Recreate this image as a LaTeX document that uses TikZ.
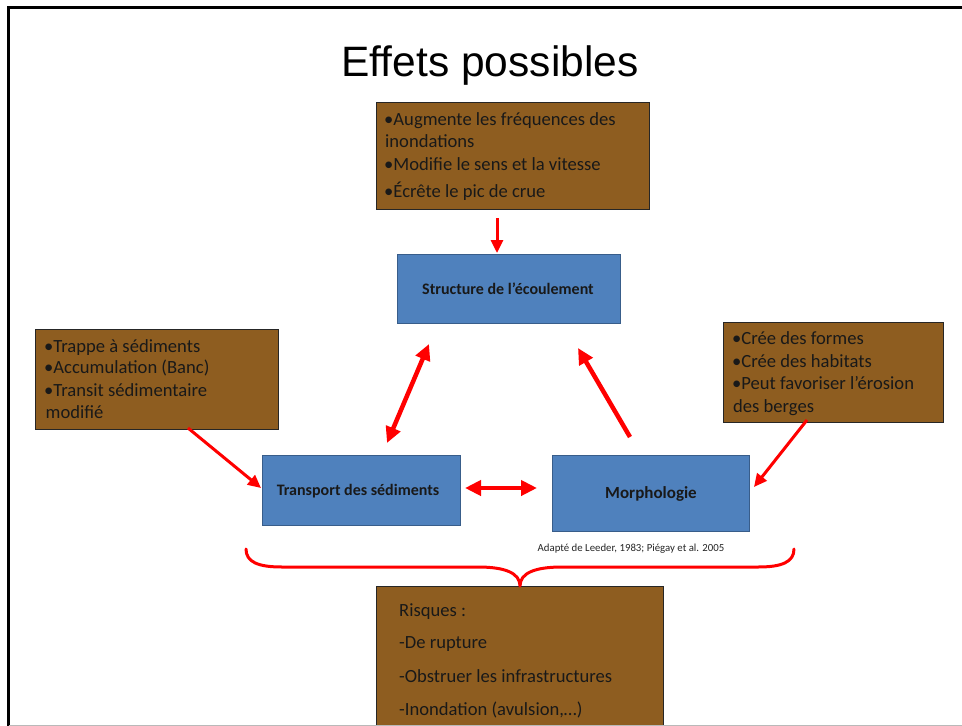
\documentclass[tikz,border=0pt]{standalone}
\usepackage{fontspec}
\setmainfont{Carlito}
\newfontfamily\titlefont{Liberation Sans}
\usetikzlibrary{arrows.meta}
\definecolor{brownfill}{RGB}{142,93,32}
\definecolor{bluefill}{RGB}{79,129,189}
\definecolor{blueedge}{RGB}{56,93,138}
\definecolor{redline}{RGB}{255,0,0}
\begin{document}
\begin{tikzpicture}[x=1pt,y=-1pt,
  brownbox/.style={draw=black!85, line width=0.9pt, fill=brownfill, inner sep=0pt, outer sep=0pt, anchor=north west},
  bluebox/.style={draw=blueedge, line width=0.9pt, fill=bluefill, inner sep=0pt, outer sep=0pt, anchor=north west},
  brtext/.style={anchor=base west, inner sep=0pt, font=\fontsize{18.6}{22}\selectfont, text=black!90},
  bltext/.style={anchor=center, inner sep=0pt, font=\bfseries\fontsize{16}{19}\selectfont, text=black!90},
  thinarrow/.style={draw=redline, line width=3pt, -{Triangle[length=13pt,width=12pt]}},
  thickarrow/.style={draw=redline, line width=4.5pt, -{Triangle[length=16pt,width=15pt]}},
  dblarrow/.style={draw=redline, line width=4.5pt, {Triangle[length=16pt,width=15pt]}-{Triangle[length=16pt,width=15pt]}}
]
\useasboundingbox (0,0) rectangle (962,726);
\fill[white] (0,0) rectangle (962,726);
% frame
\draw[line width=2.7pt] (8.5,740) -- (8.5,7.2) -- (975,7.2);
% title
\node[font=\titlefont\fontsize{42.5}{48}\selectfont, inner sep=0pt] (title) at (490,66) {Effets possibles};
% top brown box
\node[brownbox, minimum width=273pt, minimum height=107pt] (topbox) at (376,102) {};
\node[brtext] (top1) at (384,125) {•Augmente les fréquences des};
\node[brtext] (top2) at (385,147) {inondations};
\node[brtext] (top3) at (384,170) {•Modifie le sens et la vitesse};
\node[brtext] (top4) at (384,197) {•Écrête le pic de crue};
% left brown box
\node[brownbox, minimum width=243pt, minimum height=100pt] (leftbox) at (35,329) {};
\node[brtext] (left1) at (44,352) {•Trappe à sédiments};
\node[brtext] (left2) at (44,373) {•Accumulation (Banc)};
\node[brtext] (left3) at (44,396) {•Transit sédimentaire};
\node[brtext] (left4) at (45.5,418) {modifié};
% right brown box
\node[brownbox, minimum width=220pt, minimum height=100pt] (rightbox) at (723,322) {};
\node[brtext] (right1) at (732,344) {•Crée des formes};
\node[brtext] (right2) at (732,367) {•Crée des habitats};
\node[brtext] (right3) at (732,389) {•Peut favoriser l’érosion};
\node[brtext] (right4) at (733,412) {des berges};
% bottom brown box
\node[brownbox, minimum width=287pt, minimum height=142pt] (botbox) at (376,586) {};
\node[brtext] (bot1) at (399,616) {Risques :};
\node[brtext] (bot2) at (399,648) {-De rupture};
\node[brtext] (bot3) at (399,682) {-Obstruer les infrastructures};
\node[brtext] (bot4) at (399,715) {-Inondation (avulsion,…)};
\draw[gray!55, line width=1pt] (8.5,725.5) -- (962,725.5);
% blue boxes
\node[bluebox, minimum width=223pt, minimum height=69pt] (struct) at (397,254) {};
\node[bltext] (structt) at (508,289) {Structure de l’écoulement};
\node[bluebox, minimum width=198pt, minimum height=70pt] (trans) at (262,455) {};
\node[bltext] (transt) at (358,491) {Transport des sédiments};
\node[bluebox, minimum width=197pt, minimum height=76pt] (morph) at (552,455) {};
\node[bltext, font=\bfseries\fontsize{17}{20}\selectfont] (morpht) at (651,494) {Morphologie};
% citation
\node[inner sep=0pt, font=\fontsize{10.8}{12}\selectfont, text=black!85] (cite) at (631,549) {Adapté de Leeder, 1983; Piégay et al. 2005};
% arrow endpoints
\coordinate (a1s) at (497,218); \coordinate (a1e) at (497,253);
\coordinate (a2s) at (387,443); \coordinate (a2e) at (429,344);
\coordinate (a3s) at (630,437); \coordinate (a3e) at (578,348);
\coordinate (a4s) at (188,428); \coordinate (a4e) at (261,488);
\coordinate (a5s) at (807,420); \coordinate (a5e) at (754,487);
\coordinate (a6s) at (465,488); \coordinate (a6e) at (537,488);
\draw[thinarrow] (a1s) -- (a1e);
\draw[dblarrow] (a2s) -- (a2e);
\draw[thickarrow] (a3s) -- (a3e);
\draw[thinarrow] (a4s) -- (a4e);
\draw[thinarrow] (a5s) -- (a5e);
\draw[dblarrow] (a6s) -- (a6e);
% brace
\coordinate (brL) at (246,549); \coordinate (brR) at (794,549); \coordinate (brT) at (520,586);
\draw[redline, line width=3pt, line cap=round, line join=round]
  (brL) .. controls (246,562) and (258,567) .. (282,567) -- (478,567)
  .. controls (505,567) and (520,573) .. (brT)
  .. controls (520,573) and (535,567) .. (562,567) -- (758,567)
  .. controls (782,567) and (794,562) .. (brR);
\end{tikzpicture}
\end{document}
